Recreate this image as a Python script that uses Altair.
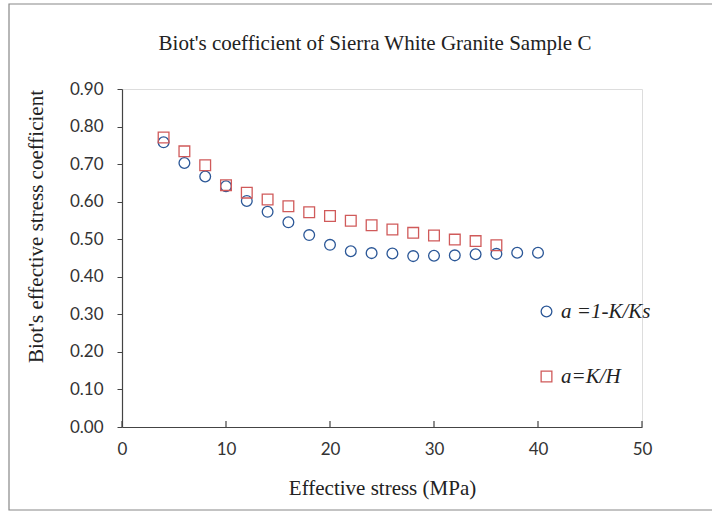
import altair as alt
import pandas as pd

stress_1 = [4, 6, 8, 10, 12, 14, 16, 18, 20, 22, 24, 26, 28, 30, 32, 34, 36, 38, 40]
biot_1 = [0.758, 0.703, 0.667, 0.641, 0.602, 0.573, 0.545, 0.511, 0.485, 0.468, 0.463, 0.462,
          0.455, 0.456, 0.457, 0.460, 0.461, 0.464, 0.464]
stress_2 = [4, 6, 8, 10, 12, 14, 16, 18, 20, 22, 24, 26, 28, 30, 32, 34, 36]
biot_2 = [0.771, 0.734, 0.697, 0.644, 0.624, 0.606, 0.588, 0.572, 0.562, 0.549, 0.537, 0.526,
          0.517, 0.510, 0.499, 0.495, 0.484]
series_names = ["a =1-K/Ks", "a=K/H"]
x_ticks = [0, 10, 20, 30, 40, 50]

df = pd.concat([
    pd.DataFrame({"stress": stress_1, "biot": biot_1, "series": series_names[0]}),
    pd.DataFrame({"stress": stress_2, "biot": biot_2, "series": series_names[1]}),
])
tick_df = pd.DataFrame({"t": x_ticks})

W, H = 520, 338
serif = "Liberation Serif"
sans = "Lato"

xscale = alt.Scale(domain=[0, 50], nice=False, zero=True)
yscale = alt.Scale(domain=[0, 0.9], nice=False)

leg = alt.Legend(title=None, orient="none", legendX=414, legendY=212,
                 labelFont=serif, labelFontStyle="italic",
                 labelFontSize=21, labelColor="#222", rowPadding=43,
                 symbolSize=115, symbolStrokeWidth=1.3, labelOffset=4)

points = alt.Chart(df).mark_point(filled=False, strokeWidth=1.3, size=115, opacity=1).encode(
    x=alt.X("stress:Q", scale=xscale,
            axis=alt.Axis(values=x_ticks, title="Effective stress (MPa)", ticks=False,
                          grid=False, labelFont=sans, labelFontSize=17, labelColor="#333",
                          labelPadding=14, labelFlush=False, titleFont=serif,
                          titleFontSize=21, titleFontWeight="normal", titleColor="#222",
                          titlePadding=20, domainColor="#444", domainWidth=1.2)),
    y=alt.Y("biot:Q", scale=yscale,
            axis=alt.Axis(values=[i / 10 for i in range(10)], format=".2f",
                          title="Biot's effective stress coefficient", grid=False,
                          tickSize=5, tickColor="#444", labelFont=sans, labelFontSize=17,
                          labelColor="#333", labelPadding=14, labelFlush=False,
                          titleFont=serif, titleFontSize=21, titleFontWeight="normal",
                          titleColor="#222", titlePadding=23, titleY=137,
                          domainColor="#444", domainWidth=1.2)),
    shape=alt.Shape("series:N", scale=alt.Scale(domain=series_names, range=["circle", "square"]),
                    legend=leg),
    color=alt.Color("series:N", scale=alt.Scale(domain=series_names,
                                                range=["#2B5797", "#D05A5A"]),
                    legend=leg),
)

xticks = alt.Chart(tick_df).mark_rule(color="#444", strokeWidth=1.2).encode(
    x=alt.X("t:Q", scale=xscale),
    y=alt.value(H),
    y2=alt.value(H - 6),
)

border = alt.Chart(tick_df.head(1)).mark_rect(fill=None, stroke="#888", strokeWidth=1.2).encode(
    x=alt.value(-113), x2=alt.value(600), y=alt.value(-85), y2=alt.value(421)
)

chart = alt.layer(border, xticks, points).properties(
    width=W, height=H,
    autosize=alt.AutoSizeParams(type="none"),
    padding={"left": 122, "top": 89, "right": 70, "bottom": 85},
    title=alt.TitleParams("Biot's coefficient of Sierra White Granite Sample C", font=serif,
                          fontSize=21, fontWeight="normal", color="#222", offset=-51,
                          anchor="middle", frame="group", dx=-7),
).configure_view(stroke=None).configure(background="white")

chart.save("out.html", embed_options={"renderer": "svg", "actions": False})
